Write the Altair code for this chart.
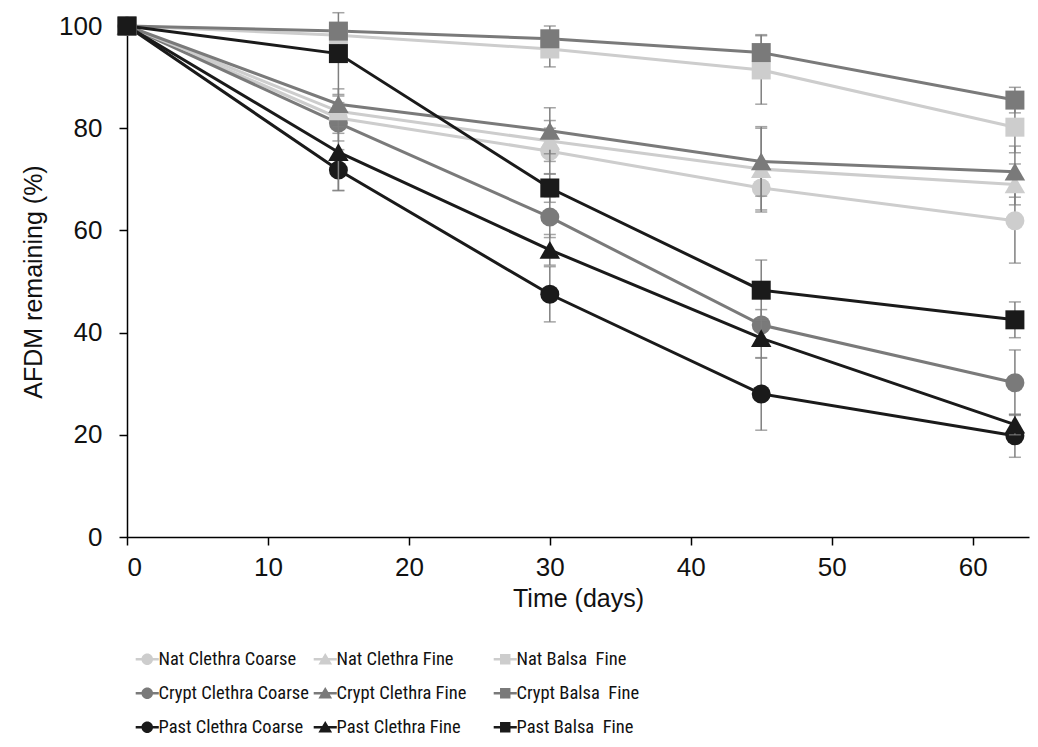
import altair as alt
import pandas as pd

# ---- data ----
days = [0, 15, 30, 45, 63]

series_names = [
    "Nat Clethra Coarse", "Crypt Clethra Coarse", "Past Clethra Coarse",
    "Nat Clethra Fine", "Crypt Clethra Fine", "Past Clethra Fine",
    "Nat Balsa\u00a0 Fine", "Crypt Balsa\u00a0 Fine", "Past Balsa\u00a0 Fine",
]

nat_clethra_coarse = [100, 82.0, 75.5, 68.3, 61.9]
crypt_clethra_coarse = [100, 81.0, 62.6, 41.5, 30.2]
past_clethra_coarse = [100, 71.8, 47.5, 28.0, 19.8]
nat_clethra_fine = [100, 83.3, 77.5, 72.0, 69.0]
crypt_clethra_fine = [100, 84.7, 79.5, 73.5, 71.5]
past_clethra_fine = [100, 75.3, 56.2, 38.9, 22.0]
nat_balsa_fine = [100, 98.2, 95.5, 91.4, 80.2]
crypt_balsa_fine = [100, 99.0, 97.5, 94.8, 85.5]
past_balsa_fine = [100, 94.6, 68.3, 48.3, 42.5]

err_nat_clethra_coarse = [0, 3.0, 4.5, 4.7, 8.3]
err_crypt_clethra_coarse = [0, 3.5, 4.0, 3.0, 6.4]
err_past_clethra_coarse = [0, 4.0, 5.4, 7.1, 4.2]
err_nat_clethra_fine = [0, 3.0, 4.0, 8.0, 4.0]
err_crypt_clethra_fine = [0, 3.0, 4.5, 6.8, 5.0]
err_past_clethra_fine = [0, 7.5, 3.0, 3.9, 2.0]
err_nat_balsa_fine = [0, 1.5, 3.5, 6.7, 5.0]
err_crypt_balsa_fine = [0, 1.0, 2.5, 3.5, 2.5]
err_past_balsa_fine = [0, 8.0, 2.8, 5.9, 3.5]

values = [nat_clethra_coarse, crypt_clethra_coarse, past_clethra_coarse,
          nat_clethra_fine, crypt_clethra_fine, past_clethra_fine,
          nat_balsa_fine, crypt_balsa_fine, past_balsa_fine]
errors = [err_nat_clethra_coarse, err_crypt_clethra_coarse, err_past_clethra_coarse,
          err_nat_clethra_fine, err_crypt_clethra_fine, err_past_clethra_fine,
          err_nat_balsa_fine, err_crypt_balsa_fine, err_past_balsa_fine]
groups = ["Clethra Coarse"] * 3 + ["Clethra Fine"] * 3 + ["Balsa Fine"] * 3

rows = []
for name, grp, vals, errs in zip(series_names, groups, values, errors):
    for d, v, e in zip(days, vals, errs):
        rows.append(dict(day=d, value=v, lo=v - e, hi=v + e, err=e,
                         series=name, group=grp))
df = pd.DataFrame(rows)

# ---- styling ----
site_colors = ["#cdcdcd", "#7a7a7a", "#1a1a1a"]
err_color = "#7f7f7f"
FONT = "Liberation Sans, Arial, sans-serif"
LEGEND_FONT = "Roboto Condensed, Liberation Sans Narrow, Liberation Sans, sans-serif"

bar = "M-2.1,-0.23 H2.1 V0.23 H-2.1 Z "
circle_path = bar + "M1.05,0 A1.05,1.05 0 1,1 -1.05,0 A1.05,1.05 0 1,1 1.05,0 Z"
triangle_path = bar + "M0,-1.15 L1.25,0.95 L-1.25,0.95 Z"
square_path = bar + "M-0.95,-0.95 H0.95 V0.95 H-0.95 Z"

group_defs = [
    ("Clethra Coarse", "circle", 361, circle_path, 11),
    ("Clethra Fine", "triangle-up", 420, triangle_path, 189),
    ("Balsa Fine", "square", 361, square_path, 369),
]

x_enc = alt.X("day:Q", title="Time (days)",
              scale=alt.Scale(domain=[0, 64], nice=False, zero=True),
              axis=alt.Axis(values=[0, 10, 20, 30, 40, 50, 60]))
y_axis = alt.Axis(values=[0, 20, 40, 60, 80, 100])
y_scale = alt.Scale(domain=[0, 100], nice=False)
Y_TITLE = "AFDM remaining (%)"

layers = []
for grp, shape, size, path, lx in group_defs:
    names = [n for n, g in zip(series_names, groups) if g == grp]
    base = alt.Chart(df[df.group == grp])
    eb = base.transform_filter("datum.err > 0")
    rule = eb.mark_rule(color=err_color, strokeWidth=1.5).encode(
        x=x_enc, y=alt.Y("lo:Q", title=Y_TITLE, scale=y_scale, axis=y_axis),
        y2="hi:Q")
    cap_lo = eb.mark_tick(orient="horizontal", color=err_color, size=12, thickness=1.5).encode(
        x=x_enc, y=alt.Y("lo:Q", title=Y_TITLE, scale=y_scale, axis=y_axis))
    cap_hi = eb.mark_tick(orient="horizontal", color=err_color, size=12, thickness=1.5).encode(
        x=x_enc, y=alt.Y("hi:Q", title=Y_TITLE, scale=y_scale, axis=y_axis))
    color_scale = alt.Scale(domain=names, range=site_colors)
    legend = alt.Legend(
        title=None, orient="none", legendX=lx, legendY=624,
        direction="vertical", symbolType=path, symbolSize=121,
        symbolStrokeWidth=0, symbolOpacity=1,
        labelFont=LEGEND_FONT, labelFontSize=18.5,
        labelColor="#111111", labelOffset=2, labelLimit=400,
        rowPadding=15, padding=0, offset=0)
    line = base.mark_line(strokeWidth=3).encode(
        x=x_enc, y=alt.Y("value:Q", title=Y_TITLE, scale=y_scale, axis=y_axis),
        color=alt.Color("series:N", scale=color_scale, legend=legend),
        detail="series:N")
    pts = base.mark_point(shape=shape, filled=True, size=size, opacity=1).encode(
        x=x_enc, y=alt.Y("value:Q", title=Y_TITLE, scale=y_scale, axis=y_axis),
        color=alt.Color("series:N", scale=color_scale, legend=legend))
    layers.append(alt.layer(rule, cap_lo, cap_hi, line, pts))

chart = alt.layer(*layers).resolve_scale(color="independent").resolve_legend(
    color="independent").properties(
    width=902, height=511,
    autosize=alt.AutoSizeParams(type="none"),
    padding={"left": 119, "top": 18, "right": 1, "bottom": 201},
).configure_view(stroke=None).configure_axis(
    grid=False, domainColor="#000000", domainWidth=1.5,
    tickColor="#000000", tickWidth=1.5, tickSize=8,
    labelFont=FONT, labelFontSize=26, labelColor="#111111",
    titleFont=FONT, titleFontSize=25, titleFontWeight="normal", titleColor="#111111",
).configure_axisY(labelPadding=17, titlePadding=12).configure_axisX(
    labelPadding=9, titlePadding=6)

chart.save("out.html", embed_options={"renderer": "svg", "actions": False})
